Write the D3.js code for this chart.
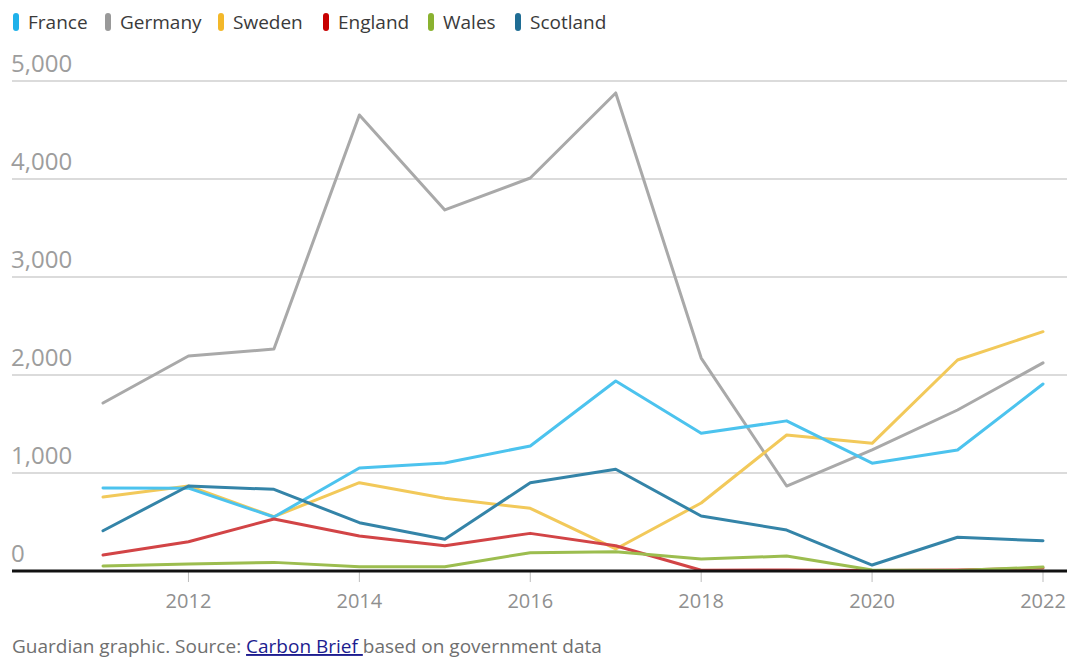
<!DOCTYPE html>
<meta charset="utf-8">
<style>
  body { margin: 0; background: #fff; }
  svg { font-family: "Open Sans", "DejaVu Sans", sans-serif; }
  .grid line { stroke: #cfcfcf; stroke-width: 1.3px; }
  .ylab { fill: #9d9d9d; font-size: 24px; }
  .xlab { fill: #8f8f8f; font-size: 20px; }
  .legend text { fill: #3a3a3a; font-size: 19px; }
  .foot { fill: #6f6f6f; font-size: 19px; }
  .series { fill: none; stroke-width: 3px; stroke-linejoin: round; stroke-linecap: round; }
</style>
<body>
<svg></svg>
<script src="https://d3js.org/d3.v7.min.js"></script>
<script>
var years = [2011, 2012, 2013, 2014, 2015, 2016, 2017, 2018, 2019, 2020, 2021, 2022];
var france   = [847, 845, 551, 1051, 1102, 1276, 1939, 1406, 1532, 1100, 1235, 1908];
var germany  = [1714, 2194, 2265, 4653, 3684, 4010, 4878, 2173, 867, 1235, 1643, 2124];
var sweden   = [755, 867, 554, 901, 742, 640, 225, 694, 1388, 1303, 2153, 2442];
var england  = [163, 299, 531, 357, 258, 384, 258, 8, 10, 5, 10, 30];
var wales    = [51, 71, 88, 44, 44, 187, 197, 122, 153, 10, 5, 40];
var scotland = [411, 867, 833, 493, 323, 901, 1038, 561, 418, 61, 344, 309];
var yTicks = [0, 1000, 2000, 3000, 4000, 5000];
var xTicks = [2012, 2014, 2016, 2018, 2020, 2022];

var legendItems = [
  {name: 'France',   swatch: '#1fb1ea', line: '#4cc3ee', values: france},
  {name: 'Germany',  swatch: '#999999', line: '#a9a9a9', values: germany},
  {name: 'Sweden',   swatch: '#f3b82a', line: '#f2c95a', values: sweden},
  {name: 'England',  swatch: '#c70000', line: '#d24446', values: england},
  {name: 'Wales',    swatch: '#8ab230', line: '#9cbd4f', values: wales},
  {name: 'Scotland', swatch: '#1f6d94', line: '#3484a8', values: scotland}
];
// drawing order (last on top)
var drawOrder = ['Germany', 'Sweden', 'France', 'England', 'Wales', 'Scotland'];

var W = 1069, H = 671;
var svg = d3.select('svg').attr('width', W).attr('height', H);

var x = d3.scaleLinear().domain([2011, 2022]).range([103, 1043]);
var y = d3.scaleLinear().domain([0, 5000]).range([571, 81]);

// legend
var lx = [13, 105, 218, 323, 428, 515];
var legend = svg.append('g').attr('class', 'legend');
legendItems.forEach(function(d, i) {
  var g = legend.append('g').attr('transform', 'translate(' + lx[i] + ',0)');
  g.append('rect').attr('x', 0).attr('y', 13).attr('width', 6).attr('height', 18)
    .attr('rx', 3).attr('fill', d.swatch);
  g.append('text').attr('x', 15).attr('y', 29).text(d.name);
});

// grid
var grid = svg.append('g').attr('class', 'grid');
grid.selectAll('line').data(yTicks.filter(function(v) { return v > 0; }))
  .enter().append('line')
  .attr('x1', 12).attr('x2', 1067)
  .attr('y1', function(d) { return y(d); }).attr('y2', function(d) { return y(d); });

svg.append('g').selectAll('text').data(yTicks).enter().append('text')
  .attr('class', 'ylab')
  .attr('x', 11)
  .attr('y', function(d) { return y(d) - 9; })
  .text(d3.format(','));

// x ticks
svg.append('g').selectAll('line').data(xTicks).enter().append('line')
  .attr('x1', function(d) { return x(d); }).attr('x2', function(d) { return x(d); })
  .attr('y1', 572).attr('y2', 582)
  .attr('stroke', '#bdbdbd').attr('stroke-width', 1);

svg.append('g').selectAll('text').data(xTicks).enter().append('text')
  .attr('class', 'xlab')
  .attr('x', function(d) { return x(d); })
  .attr('y', 608)
  .attr('text-anchor', 'middle')
  .text(function(d) { return d; });

// lines
var line = d3.line()
  .x(function(d, i) { return x(years[i]); })
  .y(function(d) { return y(d); });

drawOrder.forEach(function(name) {
  var s = legendItems.filter(function(d) { return d.name === name; })[0];
  svg.append('path').attr('class', 'series')
    .attr('stroke', s.line)
    .attr('d', line(s.values));
});

// baseline
svg.append('line')
  .attr('x1', 12).attr('x2', 1067)
  .attr('y1', y(0)).attr('y2', y(0))
  .attr('stroke', '#111').attr('stroke-width', 3);

// footer
var foot = svg.append('text').attr('class', 'foot').attr('x', 12).attr('y', 653);
foot.append('tspan').text('Guardian graphic. Source: ');
foot.append('tspan').text('Carbon Brief ')
  .attr('fill', '#1c1c8f').attr('text-decoration', 'underline');
foot.append('tspan').text('based on government data');
</script>
</body>
